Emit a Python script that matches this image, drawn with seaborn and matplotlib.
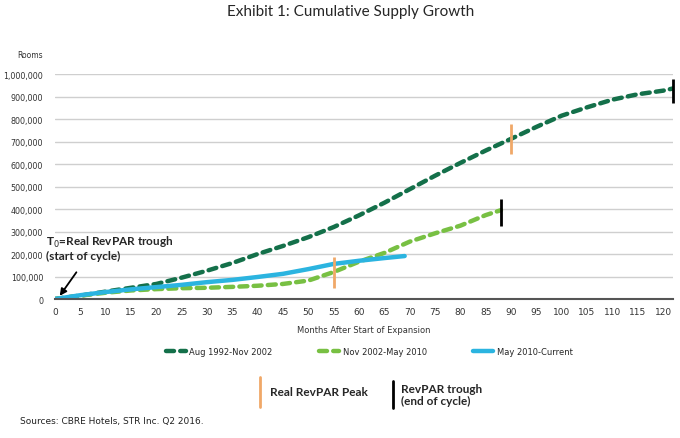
import pandas as pd
import matplotlib.pyplot as plt
import seaborn as sns
from matplotlib.lines import Line2D
from matplotlib.ticker import FuncFormatter, MultipleLocator

# ------------------------
# Data (read from the exhibit)
# ------------------------
months_a = [0, 5, 10, 15, 20, 25, 30, 35, 40, 45, 50, 55, 60, 65, 70, 75, 80,
            85, 90, 95, 100, 105, 110, 115, 120, 122]
rooms_a = [0, 15000, 33000, 50000, 67000, 95000, 126000, 160000, 200000, 236000,
           275000, 320000, 372000, 428000, 488000, 548000, 605000, 660000, 712000,
           765000, 815000, 852000, 886000, 910000, 926000, 936000]

months_b = [0, 5, 10, 15, 20, 25, 30, 35, 40, 45, 50, 55, 60, 65, 70, 75, 80, 85, 88]
rooms_b = [0, 15000, 28000, 38000, 44000, 48000, 50000, 54000, 59000, 67000, 82000,
           120000, 166000, 205000, 255000, 292000, 326000, 373000, 395000]

months_c = [0, 5, 10, 15, 20, 25, 30, 35, 40, 45, 50, 55, 60, 65, 69]
rooms_c = [0, 17000, 31000, 43000, 53000, 63000, 75000, 85000, 98000, 112000,
           133000, 156000, 170000, 182000, 191000]

series_names = ["Aug 1992-Nov 2002", "Nov 2002-May 2010", "May 2010-Current"]
series_colors = ["#14704a", "#78c043", "#2bb4e0"]

# peaks (orange) and troughs (black): month, low, high
peak_months = [55, 90]
peak_low = [50000, 645000]
peak_high = [188000, 778000]
trough_months = [88, 122]
trough_low = [325000, 870000]
trough_high = [445000, 980000]

# ------------------------
# Figure
# ------------------------
sns.set_style("white")
plt.rcParams['font.family'] = ['DejaVu Sans']

fig = plt.figure(figsize=(6.8, 4.39), dpi=100)
ax = fig.add_axes([0.081, 0.3166, 0.909, 0.5125])

df_a = pd.DataFrame({"month": months_a, "rooms": rooms_a})
df_b = pd.DataFrame({"month": months_b, "rooms": rooms_b})
df_c = pd.DataFrame({"month": months_c, "rooms": rooms_c})

sns.lineplot(data=df_a, x="month", y="rooms", ax=ax, color=series_colors[0],
             linewidth=3.2, label=series_names[0])
sns.lineplot(data=df_b, x="month", y="rooms", ax=ax, color=series_colors[1],
             linewidth=3.2, label=series_names[1])
sns.lineplot(data=df_c, x="month", y="rooms", ax=ax, color=series_colors[2],
             linewidth=3.2, label=series_names[2])
lines = ax.get_lines()
for ln in lines[:2]:
    ln.set_dashes((1.8, 1.4))
    ln.set_dash_capstyle("round")
lines[2].set_solid_capstyle("round")

ax.vlines(peak_months, peak_low, peak_high, color="#f0a868", linewidth=2, zorder=5)
ax.vlines(trough_months, trough_low, trough_high, color="black", linewidth=2,
          zorder=5, clip_on=False)

ax.set_xlim(0, 122)
ax.set_ylim(0, 1000000)
ax.xaxis.set_major_locator(MultipleLocator(5))
ax.yaxis.set_major_locator(MultipleLocator(100000))
ax.yaxis.set_major_formatter(FuncFormatter(lambda v, p: f"{int(v):,}"))
ax.tick_params(axis="x", labelsize=6.5, colors="#333333", length=0, pad=6)
ax.tick_params(axis="y", labelsize=5.8, colors="#333333", length=0, pad=8.5)
ax.grid(axis="y", color="#cfcfcf", linewidth=1)
ax.set_axisbelow(True)
for s in ["top", "right", "left"]:
    ax.spines[s].set_visible(False)
ax.spines["bottom"].set_color("#555555")
ax.spines["bottom"].set_linewidth(1.5)
ax.set_xlabel("Months After Start of Expansion", fontsize=6, color="#333333", labelpad=6)
ax.set_ylabel("")
ax.legend_.remove()

fig.text(0.044, 0.868, "Rooms", fontsize=5.5, color="#333333", ha="center")
fig.text(0.515, 0.972, "Exhibit 1: Cumulative Supply Growth", fontsize=11,
         family="Lato", ha="center", va="center")

ax.annotate("T$_0$=Real RevPAR trough\n(start of cycle)", xy=(0.5, 3000),
            xytext=(46, 177), textcoords="figure pixels", fontsize=8.5,
            family="Lato", fontweight="bold", ha="left", va="bottom",
            linespacing=1.15)
ax.annotate("", xy=(0.6, 4000), xytext=(78, 168), textcoords="figure pixels",
            arrowprops=dict(arrowstyle="-|>", color="black", lw=1.3,
                            mutation_scale=10))

handles = [Line2D([0], [0], color=series_colors[0], lw=3.2, dashes=(1.8, 1.4),
                  dash_capstyle="round"),
           Line2D([0], [0], color=series_colors[1], lw=3.2, dashes=(1.8, 1.4),
                  dash_capstyle="round"),
           Line2D([0], [0], color=series_colors[2], lw=3.2, solid_capstyle="round")]
fig.legend(handles, series_names, loc="center", bbox_to_anchor=(0.543, 0.198),
           ncol=3, frameon=False, fontsize=6, handlelength=2.4, columnspacing=5.6,
           handletextpad=0.4)

# bottom key for vertical markers
fig.add_artist(Line2D([0.382, 0.382], [0.07, 0.14], color="#f0a868", lw=2))
fig.text(0.397, 0.107, "Real RevPAR Peak", fontsize=8.5, family="Lato",
         fontweight="bold", va="center")
fig.add_artist(Line2D([0.578, 0.578], [0.068, 0.13], color="black", lw=2))
fig.text(0.589, 0.1, "RevPAR trough\n(end of cycle)", fontsize=8.5, family="Lato",
         fontweight="bold", va="center", linespacing=1.1)

fig.text(0.029, 0.04, "Sources: CBRE Hotels, STR Inc. Q2 2016.", fontsize=6.5,
         color="#222222", va="center")

fig.savefig("out.png", dpi=100)
